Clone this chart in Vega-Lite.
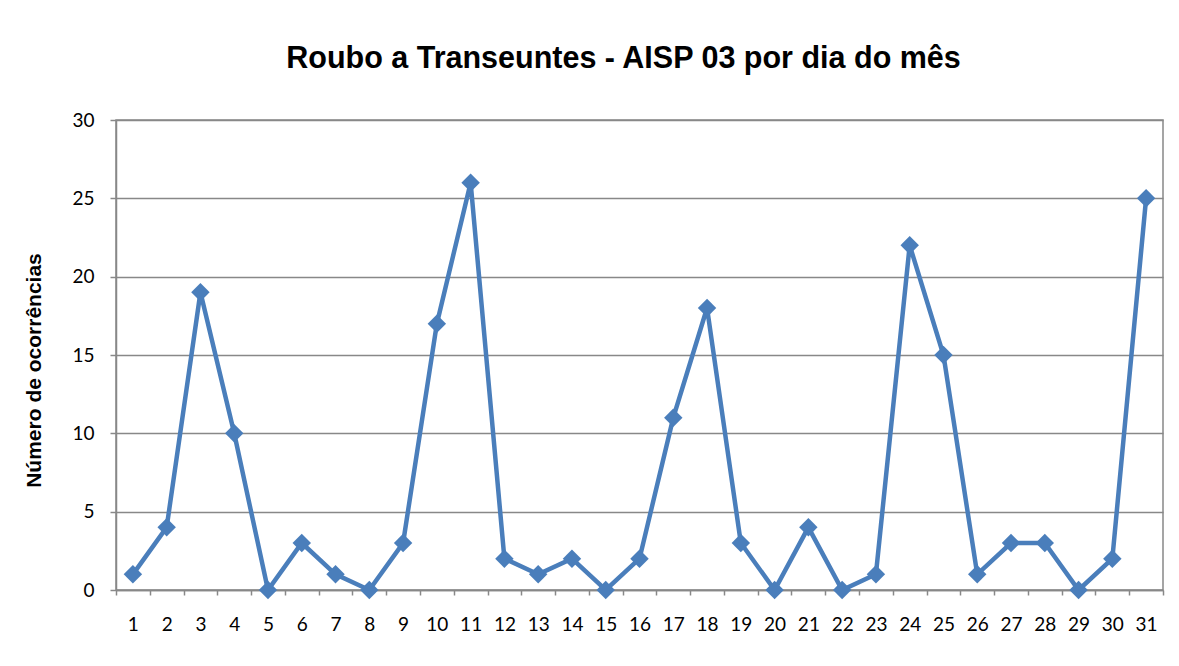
{
  "$schema": "https://vega.github.io/schema/vega-lite/v6.json",
  "width": 1047,
  "height": 470,
  "autosize": {"type": "none"},
  "padding": {"left": 116, "top": 120, "right": 16, "bottom": 76},
  "background": "white",
  "title": {
    "text": "Roubo a Transeuntes - AISP 03 por dia do mês",
    "font": "Liberation Sans",
    "fontSize": 30.5,
    "fontWeight": "bold",
    "color": "#000000",
    "anchor": "middle",
    "baseline": "alphabetic",
    "dx": -16,
    "offset": 13
  },
  "data": {
    "values": [
      {"dia": "1", "ocorrencias": 1},
      {"dia": "2", "ocorrencias": 4},
      {"dia": "3", "ocorrencias": 19},
      {"dia": "4", "ocorrencias": 10},
      {"dia": "5", "ocorrencias": 0},
      {"dia": "6", "ocorrencias": 3},
      {"dia": "7", "ocorrencias": 1},
      {"dia": "8", "ocorrencias": 0},
      {"dia": "9", "ocorrencias": 3},
      {"dia": "10", "ocorrencias": 17},
      {"dia": "11", "ocorrencias": 26},
      {"dia": "12", "ocorrencias": 2},
      {"dia": "13", "ocorrencias": 1},
      {"dia": "14", "ocorrencias": 2},
      {"dia": "15", "ocorrencias": 0},
      {"dia": "16", "ocorrencias": 2},
      {"dia": "17", "ocorrencias": 11},
      {"dia": "18", "ocorrencias": 18},
      {"dia": "19", "ocorrencias": 3},
      {"dia": "20", "ocorrencias": 0},
      {"dia": "21", "ocorrencias": 4},
      {"dia": "22", "ocorrencias": 0},
      {"dia": "23", "ocorrencias": 1},
      {"dia": "24", "ocorrencias": 22},
      {"dia": "25", "ocorrencias": 15},
      {"dia": "26", "ocorrencias": 1},
      {"dia": "27", "ocorrencias": 3},
      {"dia": "28", "ocorrencias": 3},
      {"dia": "29", "ocorrencias": 0},
      {"dia": "30", "ocorrencias": 2},
      {"dia": "31", "ocorrencias": 25}
    ]
  },
  "encoding": {
    "x": {
      "field": "dia",
      "type": "ordinal",
      "sort": null,
      "scale": {"type": "band", "paddingInner": 0, "paddingOuter": 0},
      "axis": {
        "title": null,
        "labelAngle": 0,
        "tickBand": "extent",
        "grid": false,
        "domainColor": "#888888",
        "domainWidth": 1.5,
        "tickColor": "#888888",
        "tickWidth": 1.5,
        "tickSize": 5,
        "labelFont": "Lato",
        "labelFontSize": 19,
        "labelColor": "#000000",
        "labelPadding": 20
      }
    },
    "y": {
      "field": "ocorrencias",
      "type": "quantitative",
      "scale": {"domain": [0, 30], "nice": false, "zero": true},
      "axis": {
        "title": "Número de ocorrências",
        "titleFont": "Liberation Sans",
        "titleFontSize": 21,
        "titleFontWeight": "bold",
        "titleColor": "#000000",
        "titleX": -72,
        "titleY": 250,
        "titleAngle": -90,
        "titleAlign": "center",
        "titleBaseline": "bottom",
        "values": [0, 5, 10, 15, 20, 25, 30],
        "grid": true,
        "gridColor": "#888888",
        "gridWidth": 1.5,
        "domainColor": "#888888",
        "domainWidth": 1.5,
        "tickColor": "#888888",
        "tickWidth": 1.5,
        "tickSize": 6,
        "labelFont": "Lato",
        "labelFontSize": 19,
        "labelColor": "#000000",
        "labelPadding": 16
      }
    }
  },
  "mark": {
    "type": "line",
    "color": "#4A7EBB",
    "strokeWidth": 4.5,
    "point": {"shape": "diamond", "size": 340, "filled": true, "color": "#4A7EBB", "opacity": 1}
  },
  "config": {
    "view": {"stroke": "#888888", "strokeWidth": 1.5}
  }
}
